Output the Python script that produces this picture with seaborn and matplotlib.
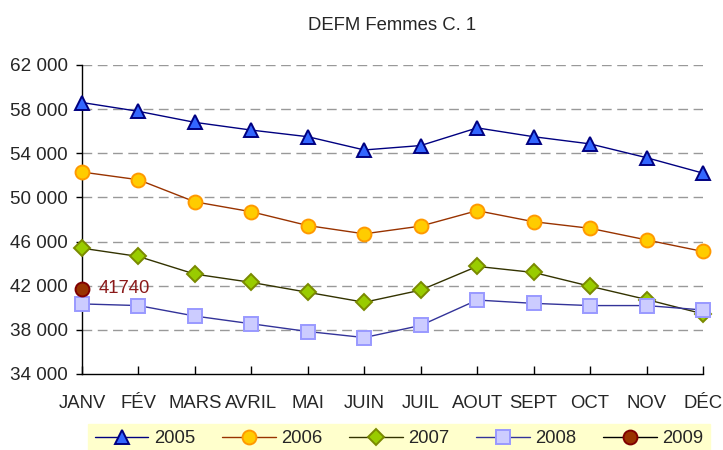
import numpy as np
import pandas as pd
import matplotlib.pyplot as plt
import matplotlib.ticker as mticker
import seaborn as sns

# --- Data --- #
months = ["JANV", "FÉV", "MARS", "AVRIL", "MAI", "JUIN",
          "JUIL", "AOUT", "SEPT", "OCT", "NOV", "DÉC"]
y2005 = [58600, 57800, 56800, 56100, 55500, 54300, 54700, 56300, 55500, 54850, 53600, 52200]
y2006 = [52300, 51600, 49600, 48700, 47450, 46700, 47400, 48800, 47800, 47200, 46150, 45100]
y2007 = [45400, 44650, 43050, 42300, 41400, 40500, 41600, 43750, 43200, 41950, 40750, 39450]
y2008 = [40350, 40200, 39250, 38550, 37850, 37300, 38400, 40700, 40400, 40200, 40200, 39800]
y2009 = [41740]

series = {"2005": y2005, "2006": y2006, "2007": y2007, "2008": y2008, "2009": y2009}

# marker, face, edge, line colour, size
styles = {
    "2005": ("^", "#3366FF", "#000080", "#000080", 10),
    "2006": ("o", "#FFCC00", "#FF9900", "#993300", 10),
    "2007": ("D", "#99CC00", "#7A8A00", "#333300", 8.5),
    "2008": ("s", "#CCCCFF", "#9999FF", "#333399", 10),
    "2009": ("o", "#993300", "#800000", "#000000", 10),
}

sns.set_style("white")
plt.rcParams['font.family'] = ['Liberation Sans', 'DejaVu Sans']
fs = 13.3

fig = plt.figure(figsize=(7.23, 4.5), dpi=100)
ax = fig.add_axes([0.1134, 0.1689, 0.9723 - 0.1134, 0.8556 - 0.1689])

for year, vals in series.items():
    mk, fc, ec, lc, ms = styles[year]
    df = pd.DataFrame({"x": np.arange(len(vals)), "y": vals})
    sns.lineplot(data=df, x="x", y="y", ax=ax, color=lc, lw=1.0,
                 marker=mk, markersize=ms, markerfacecolor=fc,
                 markeredgecolor=ec, markeredgewidth=1.4,
                 label=year, clip_on=False, zorder=3)

ax.annotate(str(y2009[0]), xy=(0, y2009[0]), xytext=(12, 0),
            textcoords="offset points", va="center", ha="left",
            color="#8B1A1A", fontsize=fs)

ax.set_xlim(0, len(months) - 1)
ax.set_ylim(34000, 62000)
ax.set_xticks(range(len(months)))
ax.set_xticklabels(months)
ax.set_yticks(range(34000, 62001, 4000))
ax.yaxis.set_major_formatter(mticker.FuncFormatter(lambda v, p: f"{int(v):,}".replace(",", " ")))
ax.set_xlabel("")
ax.set_ylabel("")

ax.tick_params(axis="x", direction="in", length=6, width=1, color="black",
               pad=15, labelsize=fs)
ax.tick_params(axis="y", direction="out", length=4, width=1, color="black",
               pad=6, labelsize=13.6)
ax.tick_params(bottom=True, left=True)

for s in ["top", "right"]:
    ax.spines[s].set_visible(False)
for s in ["left", "bottom"]:
    ax.spines[s].set_color("black")
    ax.spines[s].set_linewidth(1.0)

for v in range(38000, 62001, 4000):
    ax.axhline(v, color="#999999", lw=1, ls=(0, (7, 4)), zorder=1)

ax.set_title("DEFM Femmes C. 1", fontsize=fs, pad=25)

ax.get_legend().remove()
handles, labels = ax.get_legend_handles_labels()
leg = fig.legend(handles, labels, loc="upper center", bbox_to_anchor=(0.552, 0.0578),
                 ncol=5, fontsize=fs, frameon=True, fancybox=False,
                 facecolor="#FFFFCC", edgecolor="#FFFFCC", framealpha=1,
                 handlelength=2.9, handletextpad=0.3, columnspacing=1.45,
                 borderpad=0.35, borderaxespad=0)

fig.savefig("out.png", dpi=100)
